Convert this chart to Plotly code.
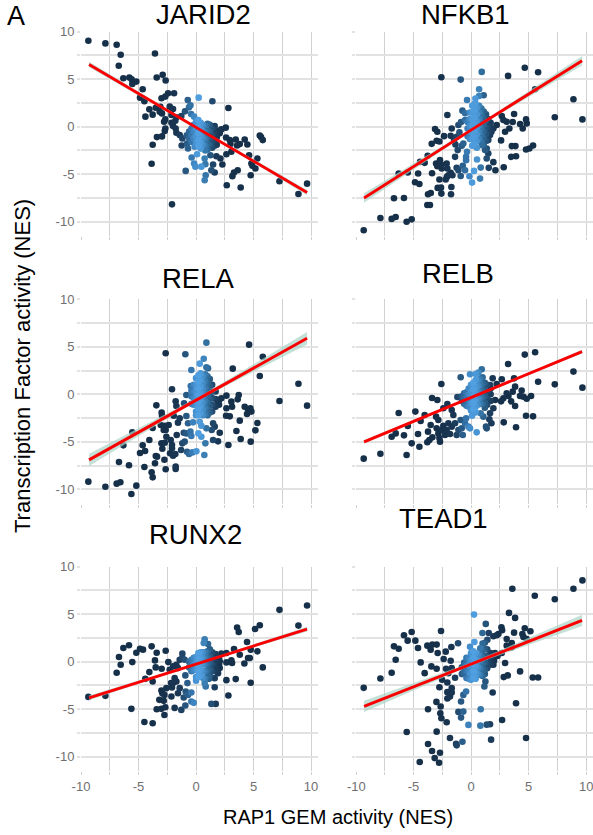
import plotly.graph_objects as go

JARID2_POINTS = [(-9.36,9.05),(-7.88,8.77),(-6.9,8.63),(-6.55,7.57),(-6.72,6.41),(-6.32,5.1),(-5.8,5.18),(-5.6,5.0),(-5.54,4.5),(-5.19,4.75),(-4.64,3.94),(-4.87,3.06),(-4.49,2.68),(-3.57,7.71),(-3.42,5.18),(-2.9,5.46),(-2.64,4.86),(-3.0,3.0),(-2.67,3.17),(-2.43,3.52),(-1.91,3.52),(-4.06,1.83),(-4.4,1.06),(-3.77,1.27),(-3.5,2.0),(-3.1,2.1),(-3.16,1.58),(-2.96,1.4),(-2.29,2.11),(-2.0,1.87),(-2.14,1.23),(-1.71,0.99),(-1.28,1.13),(-1.8,0.63),(-2.14,0.42),(-2.0,0.07),(-2.67,0.77),(-2.78,0.53),(-2.67,-0.18),(-2.72,-0.46),(-3.4,-1.09),(-2.96,-1.02),(-3.77,-1.9),(-3.86,-3.9),(-2.09,-8.17),(-1.77,-0.18),(-1.71,-0.63),(-1.42,-0.88),(-1.19,-1.23),(-1.25,-1.97),(-0.78,-1.76),(-0.7,-2.29),(-0.9,-4.65),(-0.17,-3.87),(-0.06,-4.2),(-0.38,-3.24),(0.09,-2.89),(-0.12,-2.11),(0.46,-4.2),(0.81,-3.94),(0.75,-3.35),(0.84,-5.1),(0.75,-5.63),(1.48,-3.98),(1.33,-4.58),(1.62,-4.82),(1.25,-3.0),(1.77,-3.1),(2.12,-3.35),(2.29,-3.98),(2.67,-6.16),(3.16,-5.2),(3.3,-4.82),(3.62,-4.58),(3.88,-6.4),(2.64,-2.89),(3.07,-2.64),(2.61,-1.13),(2.93,-1.41),(2.99,-1.83),(3.45,-1.34),(3.57,-1.97),(3.8,-1.83),(4.23,-1.34),(4.46,-1.87),(4.61,-3.0),(4.81,-3.87),(4.75,-5.1),(5.16,-4.4),(4.9,-4.12),(5.33,-3.35),(5.54,-0.92),(5.65,-1.09),(5.8,-1.41),(7.25,-5.74),(8.9,-7.08),(9.65,-5.99),(0.23,3.06),(-0.72,2.82),(1.42,2.68),(2.81,1.97),(-0.49,2.25),(-0.61,2.04),(-0.96,1.62),(-0.43,1.34),(-0.17,1.06),(2.58,-0.1),(2.2,-0.28),(1.91,-0.42),(1.62,0.07),(2.06,-0.7),
(0,0.5),(0,-0.2),(0,-1),(0,-1.7),(0.2,0.7),(0.2,0),(0.2,-0.7),(0.2,-1.4),(0.2,-2),(0.4,0.4),(0.4,-0.3),(0.4,-1),(0.4,-1.7),(0.4,-2.3),(0.6,0.2),(0.6,-0.5),(0.6,-1.2),(0.6,-1.9),(0.8,0.1),(0.8,-0.6),(0.8,-1.3),(0.8,-2),(0.8,-2.5),(1,0.3),(1,-0.4),(1,-1.1),(1,-1.8),(1,-2.4),(1.2,0.2),(1.2,-0.5),(1.2,-1.2),(1.2,-1.9),(1.4,-0.2),(1.4,-0.9),(1.4,-1.6),(1.4,-2.2),(1.6,-0.7),(1.6,-1.4),(1.6,-2),(1.8,-1.1),(1.8,-1.9),(-0.2,0.2),(-0.2,-0.5),(-0.2,-1.2),(-0.4,-0.2),(-0.4,-0.9),(-0.4,-1.6),(-0.6,-0.5),(-0.6,-1.2),(-0.8,-0.9)]

NFKB1_POINTS = [(-9.33,-10.9),(-7.88,-9.6),(-6.9,-9.7),(-6.55,-9.5),(-5.6,-10),(-5.16,-9.75),(-6.7,-7.53),(-5.83,-7.5),(-6.29,-4.93),(-5.5,-4.82),(-4.6,-4.93),(-4.87,-5.85),(-4.49,-6.02),(-3.74,-7.11),(-3.5,-6.97),(-3.8,-8.24),(-3.57,-8.24),(-2.9,-6.44),(-2.61,-6.41),(-2.58,-7.04),(-1.74,-7.11),(-1.71,-6.34),(-2.75,-5.56),(-2.2,-5.56),(-3.39,-4.89),(-4.43,-3.7),(-4.03,-3.8),(-3.77,-3.06),(-3.04,-3.87),(-2.93,-4.15),(-2.7,-3.52),(-2.55,-4.4),(-2.12,-3.87),(-2.6,-3.98),(-1.97,-5.1),(-1.77,-4.86),(-2.1,-5.28),(-1.62,-5.1),(-2.06,-4.4),(-1.25,-4.33),(-1.1,-4.58),(-0.9,-5.18),(-0.72,-4.12),(-0.52,-4.58),(-0.43,-3.52),(-0.35,-2.64),(-0.43,-3.17),(-0.14,-5.21),(0.09,-5.88),(0.26,-4.65),(0.78,-5.46),(0.84,-4.3),(1.54,-4.33),(2.12,-4.58),(2.84,-4.26),(1.94,-3.73),(0.52,-3.45),(1.36,-3.35),(1.5,-2.82),(1.36,-2.29),(0.93,-1.94),(1.22,-2.46),(3.48,-3.17),(3.91,-3.1),(3.54,-2.04),(3.86,-2.04),(2.61,-1.44),(4.78,-2.39),(5.07,-2.29),(5.39,-1.97),(-3.42,-1.8),(-2.99,-1.48),(-2.75,-1.55),(-2.35,-0.99),(-3.13,-0.25),(-2.93,-0.53),(-2.58,5.21),(-0.9,4.96),(0.93,5.77),(3.22,5.35),(4.67,6.2),(5.83,5.74),(5.57,3.94),(0.7,3.94),(1.1,3.31),(0.7,3.24),(0.38,2.96),(-0.35,2.82),(0.38,2.46),(-2.06,1.23),(-0.75,1.69),(-0.52,1.41),(-0.52,0.7),(-0.87,0.49),(-1.1,0.18),(-1.68,-0.18),(-1.77,-0.95),(-1.48,-1.41),(-1.36,-1.87),(-1.16,-2.46),(-1.39,-3.17),(-0.67,-1.76),(-0.81,-2.01),(-1.25,-1.06),(-1.01,-0.6),(8.9,2.89),(9.68,0.77),(7.28,0.99),(3.74,1.34),(3.62,0.49),(2.67,1.13),(2.81,0.7),(3.1,0.53),(2.23,0.18),(1.94,-0.18),(2.96,-0.53),(3.33,-0.18),(4.26,0.28),(4.49,-0.18),(4.78,0.77),(4.84,0.35),(1.65,-0.88),(1.5,-1.41),(1.77,-0.53),
(-0.3,-0.2),(-0.3,0.5),(-0.3,-1),(-0.1,1.5),(-0.1,0.8),(-0.1,0.1),(-0.1,-0.6),(-0.1,-1.3),(0.1,2.2),(0.1,1.5),(0.1,0.8),(0.1,0.1),(0.1,-0.6),(0.1,-1.3),(0.1,-2),(0.3,2.4),(0.3,1.7),(0.3,1),(0.3,0.3),(0.3,-0.4),(0.3,-1.1),(0.3,-1.8),(0.5,2),(0.5,1.3),(0.5,0.6),(0.5,-0.1),(0.5,-0.8),(0.5,-1.5),(0.5,-2.2),(0.7,2.2),(0.7,1.5),(0.7,0.8),(0.7,0.1),(0.7,-0.6),(0.7,-1.3),(0.9,1.9),(0.9,1.2),(0.9,0.5),(0.9,-0.2),(0.9,-0.9),(0.9,-1.6),(1.1,1.6),(1.1,0.9),(1.1,0.2),(1.1,-0.5),(1.1,-1.2),(1.1,-1.9),(1.3,1.3),(1.3,0.6),(1.3,-0.1),(1.3,-0.8),(1.3,-1.5),(1.5,0.8),(1.5,0.1),(1.5,-0.6),(1.7,0.4),(1.7,-0.3)]

RELA_POINTS = [(-9.36,-9.19),(-7.88,-9.72),(-6.9,-9.4),(-6.58,-9.26),(-5.62,-10.49),(-5.19,-9.61),(-6.7,-7.12),(-5.83,-7.47),(-6.32,-5.37),(-5.54,-4.0),(-4.64,-5.37),(-4.87,-6.18),(-4.43,-5.96),(-4.49,-7.65),(-4.06,-4.81),(-3.77,-3.54),(-3.57,-7.26),(-3.5,-6.49),(-3.39,-6.56),(-3.86,-8.21),(-3.77,-8.74),(-2.75,-6.88),(-2.64,-7.89),(-2.93,-5.72),(-3.01,-5.16),(-2.72,-5.09),(-2.64,-3.75),(-2.81,-3.75),(-3.07,-3.23),(-2.72,-3.3),(-2.38,-3.23),(-2.99,-1.93),(-2.96,-2.25),(-3.45,-1.16),(-2.09,0.53),(-2.64,4.32),(-0.93,4.21),(0.9,5.44),(0.67,3.75),(0.32,3.23),(-0.41,2.56),(0.9,2.84),(1.04,2.74),(-2.58,-4.46),(-2.2,-4.81),(-2.09,-5.33),(-2.09,-5.68),(-2.26,-6.21),(-2,-6.46),(-1.8,-6.28),(-1.68,-4.28),(-1.3,-5.86),(-1.77,-7.61),(-1.77,-7.86),(-1.19,-5.16),(-0.99,-4.98),(-1.07,-4.04),(-0.84,-4.11),(-0.49,-3.93),(-0.41,-4.39),(-0.7,-3.05),(-0.26,-2.95),(0.32,-2.88),(0.2,-4.11),(0.46,-4.46),(0.81,-5.16),(-0.78,-6.04),(-0.61,-6.28),(-0.32,-6.11),(0.03,-6.0),(0.72,-6.39),(1.48,-4.81),(1.91,-4.95),(2.06,-4.04),(1.36,-3.75),(0.9,-3.58),(0.46,-3.3),(1.48,-3.05),(1.62,-3.4),(-1.77,-0.74),(-1.71,-1.23),(-1.42,-2.53),(-1.57,-2.98),(-0.84,-2.28),(-1.94,-2.25),(-1.04,-0.95),(-0.84,-0.07),(-0.46,0.88),(2.81,-5.33),(3.51,-3.86),(3.88,-4.7),(3.8,-2.77),(4.75,-4.98),(5.16,-3.79),(5.33,-3.02),(2.61,-2.25),(2.93,-2.32),(2.64,-1.47),(3.13,-1.3),(3.07,-0.77),(2.64,-0.14),(2.2,-0.42),(1.91,-0.95),(3.71,-0.07),(3.62,-0.53),(4.23,-1.3),(4.52,-1.65),(4.43,-2.07),(4.72,-1.47),(4.81,-1.82),(3.19,2.7),(4.61,5.23),(5.8,3.96),(5.54,1.93),(7.25,-0.7),(8.9,1.12),(9.65,-1.19),
(-0.4,-0.2),(-0.4,0.4),(-0.4,-1),(-0.2,1),(-0.2,0.3),(-0.2,-0.4),(-0.2,-1.1),(0,1.7),(0,1),(0,0.3),(0,-0.4),(0,-1.1),(0,-1.8),(0,-2.2),(0.2,2),(0.2,1.3),(0.2,0.6),(0.2,-0.1),(0.2,-0.8),(0.2,-1.5),(0.2,-2.2),(0.4,2.2),(0.4,1.5),(0.4,0.8),(0.4,0.1),(0.4,-0.6),(0.4,-1.3),(0.4,-2),(0.6,1.9),(0.6,1.2),(0.6,0.5),(0.6,-0.2),(0.6,-0.9),(0.6,-1.6),(0.6,-2.2),(0.8,2.1),(0.8,1.4),(0.8,0.7),(0.8,0),(0.8,-0.7),(0.8,-1.4),(0.8,-2.1),(1,1.9),(1,1.2),(1,0.5),(1,-0.2),(1,-0.9),(1,-1.6),(1,-2.2),(1.2,1.6),(1.2,0.9),(1.2,0.2),(1.2,-0.5),(1.2,-1.2),(1.2,-1.9),(1.4,1),(1.4,0.3),(1.4,-0.4),(1.4,-1.1),(1.4,-1.8),(1.7,0.3),(1.7,-0.5),(1.7,-1.3),(2,-0.6),(2,-1.1)]

RELB_POINTS = [(-9.33,-6.77),(-7.88,-6.25),(-6.9,-4.46),(-6.55,-4.11),(-5.83,-4.32),(-5.6,-6.39),(-5.16,-5.16),(-6.29,-1.96),(-5.5,-3.33),(-4.84,-1.82),(-4.61,-4.18),(-4.49,-5.51),(-4.38,-2.81),(-4.03,-2.18),(-3.8,-5.05),(-3.62,-4.81),(-3.74,-3.93),(-3.51,-3.23),(-3.36,-4.53),(-3.39,-0.39),(-2.93,-0.6),(-2.58,1.09),(-2.7,-4.98),(-2.75,-4.6),(-3.04,-2.35),(-2.84,-2.7),(-2.99,-3.58),(-2.84,-4.11),(-2.55,-3.75),(-2.41,-3.3),(-2.26,-4.28),(-2.12,-3.75),(-1.83,-4.18),(-1.97,-3.05),(-1.68,-3.4),(-1.25,-4.28),(-1.1,-3.75),(-1.39,-3.05),(-1.54,-2.18),(-1.68,-1.65),(-2.06,-1.02),(-2.41,-1.47),(-1.19,-0.28),(-0.72,-4.28),(-0.81,-3.58),(-0.52,-3.05),(-0.23,-3.4),(-0.09,-3.58),(0.49,-4.0),(-0.9,-2.7),(-0.43,-2.53),(0.09,-2.25),(1.3,-3.4),(1.36,-3.58),(1.59,-2.63),(1.77,-3.05),(0.84,-2),(1.07,-2.35),(1.65,-2),(1.94,-1.47),(2.84,-2.95),(3.91,-3.47),(4.78,-2.25),(5.39,-2.32),(3.83,-1.23),(3.48,-0.74),(2.61,-0.74),(3.1,0.1),(2.81,-0.42),(2.09,-0.6),(4.4,0.39),(4.26,-0.18),(4.55,-0.25),(4.84,-0.46),(5.22,-0.18),(3.62,0.28),(3.25,-0.18),(3.83,0.81),(3.74,1.68),(3.22,3.19),(4.67,4.18),(5.57,4.42),(5.83,1.33),(7.28,1.05),(8.9,2.39),(9.68,0.7),(2.67,1.58),(1.88,1.68),(2.23,1.09),(1.65,0.98),(0.93,2.63),(0.64,2.28),(-0.09,2.11),(-0.9,1.79),(0.41,2.14),
(-0.8,-0.2),(-0.8,-0.7),(-0.6,0.1),(-0.6,-0.4),(-0.6,-1),(-0.4,0.2),(-0.4,-0.4),(-0.4,-1.2),(-0.2,0.6),(-0.2,0),(-0.2,-0.6),(-0.2,-1.3),(0,1),(0,0.3),(0,-0.3),(0,-1),(0,-1.7),(0.2,1.2),(0.2,0.5),(0.2,-0.2),(0.2,-0.9),(0.2,-1.6),(0.4,1.5),(0.4,0.8),(0.4,0.1),(0.4,-0.6),(0.4,-1.3),(0.4,-1.9),(0.6,1.5),(0.6,0.9),(0.6,0.2),(0.6,-0.5),(0.6,-1.1),(0.8,1.6),(0.8,1),(0.8,0.3),(0.8,-0.4),(0.8,-1),(1,1.8),(1,1.1),(1,0.4),(1,-0.3),(1,-1),(1.2,1.2),(1.2,0.5),(1.2,-0.2),(1.2,-0.9),(1.2,-1.4),(1.4,1),(1.4,0.3),(1.4,-0.4),(1.4,-1.1),(1.7,0.6),(1.7,0),(1.7,-0.7)]

RUNX2_POINTS = [(-9.36,-3.7),(-7.88,-3.59),(-6.9,-1.16),(-6.7,0.49),(-6.55,-0.32),(-6.32,1.44),(-5.83,1.73),(-5.54,-0.04),(-5.62,-4.96),(-5.19,0.95),(-4.87,1.37),(-4.61,1.27),(-4.49,-6.34),(-3.77,-6.48),(-4.06,-1.09),(-4.41,-1.8),(-3.77,-2.08),(-3.86,1.62),(-3.42,0.95),(-3.57,0.14),(-3.51,-0.6),(-2.99,-0.74),(-2.64,1.16),(-2.41,-0.04),(-3.42,-5),(-3.01,-4.96),(-2.75,-5.6),(-2.67,-4.79),(-3.19,-4.01),(-2.81,-4.12),(-2.75,-3.49),(-3.01,-3.03),(-2.93,-3.31),(-2.58,-2.78),(-2.17,-2.25),(-2.09,-2.71),(-2.14,-3.66),(-1.86,-4.86),(-1.28,-5.07),(-0.93,-4.61),(-0.41,-4.19),(-0.2,-4.33),(-1.07,-3.77),(-1.57,-3.31),(-1.42,-2.78),(-2,-2.25),(-1.86,-1.73),(-1.71,-2.08),(-0.9,-3.13),(-0.7,-3.49),(-0.41,-3.24),(-0.75,-2.25),(-0.93,-1.44),(1.33,-4.44),(1.71,-4.44),(2.81,-3.56),(1.62,-2.68),(0.84,-2.61),(0.75,-2.25),(1.13,-1.8),(1.62,-1.73),(1.91,-1.2),(2.64,-1.94),(3.45,-1.83),(4.75,-2.22),(5.8,-0.6),(4.2,-0.18),(4.52,0.39),(4.67,0.39),(5.33,1.09),(4.75,1.27),(4.43,2.08),(3.8,0.74),(3.3,1.34),(3.13,-0.14),(3.07,0.14),(2.64,-0.07),(2.2,0.85),(2.64,0.92),(2.06,0.04),(2.06,-0.67),(1.77,-1.02),(3.57,3.59),(3.71,3.13),(5.13,3.45),(5.54,3.84),(7.25,5.46),(8.9,3.8),(9.65,5.92),(0.75,2.36),(0.67,1.97),(1.04,1.87),(-1.19,0.85),(-1.42,0.21),(-0.99,0.21),(-1.71,-0.32),(-2,-0.49),(-2.29,-0.85),(-1.57,-0.67),(-1.19,0.39),
(-0.6,0),(-0.6,-0.6),(-0.4,0.2),(-0.4,-0.4),(-0.4,-1),(-0.2,0.4),(-0.2,-0.2),(-0.2,-0.9),(0,0.5),(0,-0.1),(0,-0.8),(0,-1.6),(0,-2),(0.2,0.9),(0.2,0.3),(0.2,-0.4),(0.2,-1),(0.2,-1.6),(0.4,1),(0.4,0.4),(0.4,-0.2),(0.4,-0.9),(0.4,-1.5),(0.6,1),(0.6,0.4),(0.6,-0.3),(0.6,-1),(0.6,-1.7),(0.8,1),(0.8,0.4),(0.8,-0.3),(0.8,-1),(0.8,-1.8),(1,1.1),(1,0.5),(1,-0.2),(1,-0.9),(1,-1.5),(1.2,1.3),(1.2,0.6),(1.2,-0.1),(1.2,-0.8),(1.2,-1.4),(1.4,1),(1.4,0.3),(1.4,-0.3),(1.4,-1),(1.7,0.8),(1.7,0.1),(1.7,-0.6),(2,0.4),(2,-0.3)]

TEAD1_POINTS = [(-9.33,-2.75),(-7.88,-1.76),(-6.9,-1.16),(-6.55,0.21),(-6.7,1.62),(-6.29,1.37),(-5.83,2.78),(-5.51,2.22),(-5.16,3.13),(-4.84,2.22),(-4.61,1.44),(-4.38,-0.07),(-4.03,-1.2),(-3.8,1.69),(-3.51,1.27),(-3.36,1.8),(-2.99,1.8),(-2.9,0.92),(-3.45,-0.49),(-2.99,-0.74),(-2.61,3.24),(-2.38,0.28),(-2.2,1.06),(-1.71,1.55),(-1.13,1.94),(-1.77,0.11),(-2.17,-0.74),(-1.68,-0.67),(-1.97,-1.2),(-1.39,-1.69),(-2.06,-2.18),(-2.52,-1.9),(-2.75,-2.68),(-2.06,-3.2),(-1.68,-2.78),(-1.68,-3.24),(-2.06,-3.87),(-1.83,-3.66),(-3.01,-4.23),(-2.64,-4.72),(-3.74,-5),(-2.67,-5.42),(-2.58,-5.95),(-2.12,-6.37),(-5.59,-7.39),(-2.99,-7.36),(-3.74,-8.66),(-3.39,-9.4),(-2.7,-9.58),(-3.16,-10.14),(-2.78,-10.63),(-4.46,-10.56),(-1.83,-8.03),(-1.3,-8.63),(-1.25,-8.8),(-0.75,-8.42),(1.74,-8.2),(4.78,-8.03),(2.7,-6.13),(3.91,-4.37),(1.88,-3.24),(1.16,-2.61),(1.25,-2.08),(-1.1,-5.28),(-0.67,-5.25),(-0.87,-5.88),(-0.87,-4.19),(-0.67,-3.49),(-0.43,-3.13),(-0.23,-6.65),(0.84,-5),(0.81,-6.73),(1.36,-6.62),(1.65,-6.58),(0.26,4.96),(0.29,2.08),(-0.09,1.58),(1.28,3.98),(0.99,3.03),(1.54,3.03),(1.94,2.68),(2.23,2.78),(2.38,2.92),(2.64,3.63),(2.7,3.31),(3.1,2.39),(3.74,3.06),(3.3,5.14),(3.83,4.61),(3.59,7.68),(5.54,6.94),(7.28,6.58),(8.9,7.68),(9.68,8.56),(4.67,3.52),(5.16,3.2),(4.46,2.92),(4.55,2.61),(4.84,2.39),(3.54,1.97),(3.1,1.69),(3.54,1.51),(2.96,-0.14),(4.26,-1.02),(3.19,-1.44),(2.84,-1.62),(5.36,-1.66),(5.83,-1.66),(1.94,-0.32),(1.59,-0.32),(2.67,0.92),(2.09,0.92),(1.42,2.32),
(-0.8,-0.6),(-0.8,-1.3),(-0.6,-0.1),(-0.6,-0.7),(-0.6,-1.2),(-0.4,0.4),(-0.4,-0.3),(-0.4,-1),(-0.4,-1.7),(-0.2,0.4),(-0.2,-0.3),(-0.2,-1),(-0.2,-1.8),(0,0.9),(0,0.2),(0,-0.5),(0,-1.2),(0,-1.9),(0.2,1.1),(0.2,0.4),(0.2,-0.3),(0.2,-1),(0.2,-1.7),(0.4,0.9),(0.4,0.2),(0.4,-0.5),(0.4,-1.2),(0.4,-1.8),(0.6,0.7),(0.6,0.1),(0.6,-0.6),(0.6,-1.3),(0.8,1.4),(0.8,0.7),(0.8,0),(0.8,-0.7),(0.8,-1.4),(1,1.9),(1,1.2),(1,0.5),(1,-0.2),(1,-0.9),(1,-1.5),(1.2,2),(1.2,1.3),(1.2,0.6),(1.2,-0.1),(1.2,-0.8),(1.2,-1.3),(1.4,1.3),(1.4,0.6),(1.4,-0.1),(1.4,-0.7),(1.7,0.9),(1.7,0.3),(1.7,-0.3),(2,0.7),(2,0.1),(2.3,0.6)]

# fit line: x and y at the ends, plus the band half-width at the ends and centre
FIT_X = [-9.3, 0.2, 9.65]
JARID2_FIT = [(6.55, 0.28), (-0.2, 0.08), (-6.93, 0.28)]
NFKB1_FIT = [(-7.5, 0.5), (-0.2, 0.12), (6.94, 0.5)]
RELA_FIT = [(-6.9, 0.65), (-0.45, 0.14), (5.9, 0.65)]
RELB_FIT = [(-5.0, 0.2), (-0.25, 0.06), (4.5, 0.2)]
RUNX2_FIT = [(-3.8, 0.25), (-0.15, 0.06), (3.44, 0.25)]
TEAD1_FIT = [(-4.7, 0.6), (-0.15, 0.14), (4.35, 0.6)]

PANEL_NAMES = ["JARID2", "NFKB1", "RELA", "RELB", "RUNX2", "TEAD1"]
PANEL_POINTS = [JARID2_POINTS, NFKB1_POINTS, RELA_POINTS, RELB_POINTS, RUNX2_POINTS, TEAD1_POINTS]
PANEL_FITS = [JARID2_FIT, NFKB1_FIT, RELA_FIT, RELB_FIT, RUNX2_FIT, TEAD1_FIT]
TITLE_POS = [(203, 14), (465, 14), (198, 278), (458, 273), (195.5, 534), (443, 518)]

GRID_VALS = [-10, -7.5, -5, -2.5, 0, 2.5, 5, 7.5, 10]
GRID_TEXT = ["-10", "", "-5", "", "0", "", "5", "", "10"]
LAST_PANEL_TEXT = ["", "", "-5", "", "0", "", "5", "", ""]
LAST_PANEL_EDGE_TICKS = [-10, 10]

W, H = 593, 835
X_DOM = [(81, 318), (356, 593)]
Y_DOM = [(31.7, 236), (299.3, 503.6), (566.7, 771)]
FONT = "Liberation Sans"
TICKFONT = dict(family=FONT, size=13, color="#707070")

COLORSCALE = [[0.0, "#16304a"], [0.25, "#1a3653"], [0.38, "#2b5f8c"], [0.46, "#3c82bd"],
              [0.53, "#50a0e2"], [0.58, "#4a96d4"], [0.65, "#31709f"], [0.76, "#1d3f60"], [0.85, "#17324d"], [1.0, "#16304a"]]

fig = go.Figure()
layout = dict(width=W, height=H, margin=dict(l=0, r=0, t=0, b=0), autosize=False,
              paper_bgcolor="white", plot_bgcolor="white", showlegend=False)
annotations = []

for i, name in enumerate(PANEL_NAMES):
    row, col = i // 2, i % 2
    idx = "" if i == 0 else str(i + 1)
    xa, ya = "x" + idx, "y" + idx
    x0, x1 = X_DOM[col]
    y0, y1 = Y_DOM[row]
    x_text = [""] * 9
    if i == 4:
        x_text = GRID_TEXT
    elif i == 5:
        x_text = LAST_PANEL_TEXT
    layout["xaxis" + idx] = dict(
        domain=[x0 / W, x1 / W], range=[-10, 10.6], anchor=ya, automargin=False,
        tickmode="array", tickvals=GRID_VALS, ticktext=x_text,
        showgrid=True, gridcolor="#d0d0d0", gridwidth=1.4, zeroline=False, showline=False,
        ticks="outside", ticklen=3, tickcolor="#d0d0d0", tickwidth=1.4,
        tickfont=TICKFONT, tickangle=0)
    layout["yaxis" + idx] = dict(
        domain=[1 - y1 / H, 1 - y0 / H], range=[-11.5, 10], anchor=xa, automargin=False,
        tickmode="array", tickvals=GRID_VALS, ticktext=GRID_TEXT if col == 0 else [""] * 9,
        showgrid=True, gridcolor="#e2e2e2", gridwidth=1.6, zeroline=False, showline=False,
        ticks="outside", ticklen=3, tickcolor="#e2e2e2", tickwidth=1.6,
        tickfont=TICKFONT)

    # densest points (lightest colour, around x = 0.2) are drawn last
    pts = sorted(PANEL_POINTS[i], key=lambda p: -abs(p[0] - 0.2))
    px = [p[0] for p in pts]
    py = [p[1] for p in pts]
    fit = PANEL_FITS[i]
    fy = [f[0] for f in fit]
    upper = [f[0] + f[1] for f in fit]
    lower = [f[0] - f[1] for f in fit]

    fig.add_trace(go.Scatter(x=px, y=py, mode="markers", xaxis=xa, yaxis=ya, hoverinfo="skip",
                             marker=dict(size=6.6, color=px, cmin=-3, cmax=3,
                                         colorscale=COLORSCALE, showscale=False, line=dict(width=0))))
    fig.add_trace(go.Scatter(x=FIT_X + FIT_X[::-1], y=upper + lower[::-1], mode="lines", fill="toself",
                             fillcolor="rgba(170,212,198,0.7)", line=dict(width=0),
                             xaxis=xa, yaxis=ya, hoverinfo="skip"))
    fig.add_trace(go.Scatter(x=FIT_X, y=fy, mode="lines", line=dict(color="#fa0000", width=2.9),
                             xaxis=xa, yaxis=ya, hoverinfo="skip"))

    tx, ty = TITLE_POS[i]
    annotations.append(dict(text=name, x=tx / W, y=1 - ty / H, xref="paper", yref="paper",
                            xanchor="center", yanchor="middle", showarrow=False,
                            font=dict(family=FONT, size=27.5, color="black")))

for tick in LAST_PANEL_EDGE_TICKS:
    annotations.append(dict(text=str(tick), x=tick, y=1 - 786.5 / H, xref="x6", yref="paper",
                            xanchor="center", yanchor="middle", showarrow=False, font=TICKFONT))

annotations.append(dict(text="A", x=16 / W, y=1, xref="paper", yref="paper", xanchor="center",
                        yanchor="top", showarrow=False, borderpad=0, font=dict(family=FONT, size=27, color="black")))
annotations.append(dict(text="Transcription Factor activity (NES)", x=22 / W, y=1 - 366 / H,
                        xref="paper", yref="paper", xanchor="center", yanchor="middle", showarrow=False,
                        textangle=-90, font=dict(family=FONT, size=22, color="black")))
annotations.append(dict(text="RAP1 GEM activity (NES)", x=338 / W, y=1 - 817 / H, xref="paper", yref="paper",
                        xanchor="center", yanchor="middle", showarrow=False,
                        font=dict(family=FONT, size=20, color="black")))
layout["annotations"] = annotations
fig.update_layout(**layout)
fig.write_html("out.html", post_script="document.body.style.margin='0';",
               config=dict(displayModeBar=False))
